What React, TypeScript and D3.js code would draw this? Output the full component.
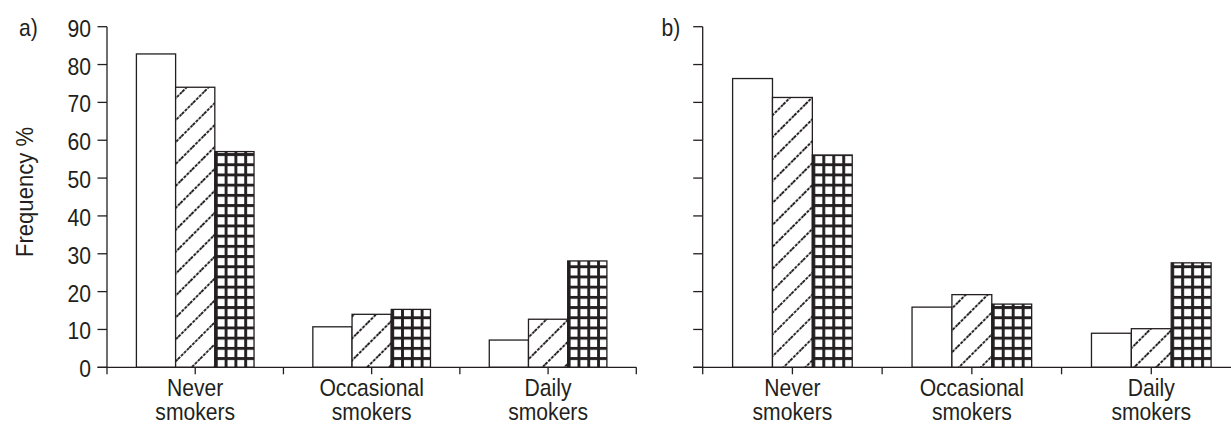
import React from "react";
import * as d3 from "d3";

const categories = ["Never smokers", "Occasional smokers", "Daily smokers"];
const categoryLines = [["Never", "smokers"], ["Occasional", "smokers"], ["Daily", "smokers"]];
const seriesKeys = ["white", "hatched", "grid"];
const panelAValues = [
  [82.8, 74.0, 57.0],
  [10.7, 14.0, 15.3],
  [7.2, 12.7, 28.1],
];
const panelBValues = [
  [76.3, 71.3, 56.1],
  [15.9, 19.2, 16.7],
  [9.0, 10.2, 27.6],
];
const yTicks = [0, 10, 20, 30, 40, 50, 60, 70, 80, 90];

const INK = "#231f20";
const FONT = "'Liberation Sans', Arial, Helvetica, sans-serif";
const FS = 24;
const SX = 0.88;

function T({ x, y, anchor = "middle", children }: any) {
  return (
    <text
      transform={`translate(${x},${y}) scale(${SX},1)`}
      textAnchor={anchor}
      fontFamily={FONT}
      fontSize={FS}
      fill={INK}
    >
      {children}
    </text>
  );
}

function Panel({ id, values, x0, x1, label, showTickLabels }: any) {
  const y = d3.scaleLinear().domain([0, 90]).range([367.3, 26.7]);
  const xb = d3.scaleBand<string>().domain(categories).range([x0, x1]).paddingInner(0).paddingOuter(0);
  const xs = d3
    .scaleBand<string>()
    .domain(seriesKeys)
    .range([0, xb.bandwidth()])
    .paddingInner(0)
    .paddingOuter(0.75);
  const bw = xs.bandwidth();
  const base = y(0);
  const xTickPositions: number[] = [];
  categories.forEach((c) => {
    xTickPositions.push(xb(c)!);
    xTickPositions.push(xb(c)! + xb.bandwidth() / 2);
  });
  xTickPositions.push(x1);

  return (
    <g>
      <defs>
        {values.map((row: number[], ci: number) => {
          const bx = xb(categories[ci])! + xs("grid")!;
          return (
            <pattern
              key={ci}
              id={`${id}-grid-${ci}`}
              patternUnits="userSpaceOnUse"
              x={bx}
              y={base}
              width={bw / 4}
              height={10.2}
            >
              <rect width={bw / 4} height={10.2} fill="#fff" />
              <rect x={0} y={0} width={2.9} height={10.2} fill={INK} />
              <rect x={0} y={0} width={bw / 4} height={2.9} fill={INK} />
            </pattern>
          );
        })}
      </defs>
      {values.map((row: number[], ci: number) =>
        row.map((v: number, si: number) => {
          const key = seriesKeys[si];
          const bx = xb(categories[ci])! + xs(key)!;
          const fill =
            key === "white" ? "#fff" : key === "hatched" ? "url(#hatch)" : `url(#${id}-grid-${ci})`;
          return (
            <rect
              key={`${ci}-${si}`}
              x={bx}
              y={y(v)}
              width={bw}
              height={base - y(v)}
              fill={fill}
              stroke={INK}
              strokeWidth={1.3}
            />
          );
        })
      )}
      <line x1={x0} x2={x0} y1={y(90)} y2={base} stroke={INK} strokeWidth={1.3} />
      {yTicks.map((t) => (
        <g key={t}>
          <line x1={x0 - 9.5} x2={x0} y1={y(t)} y2={y(t)} stroke={INK} strokeWidth={1.3} />
          {showTickLabels && (
            <T x={x0 - 16} y={y(t) + 10} anchor="end">
              {t}
            </T>
          )}
        </g>
      ))}
      <line x1={x0 - 9.5} x2={x1} y1={base} y2={base} stroke={INK} strokeWidth={1.3} />
      {xTickPositions.map((p, i) => (
        <line key={i} x1={p} x2={p} y1={base} y2={base + 7} stroke={INK} strokeWidth={1.3} />
      ))}
      {categories.map((c, ci) => (
        <g key={c}>
          <T x={xb(c)! + xb.bandwidth() / 2} y={395.5}>
            {categoryLines[ci][0]}
          </T>
          <T x={xb(c)! + xb.bandwidth() / 2} y={419.5}>
            {categoryLines[ci][1]}
          </T>
        </g>
      ))}
      <T x={label.x} y={35.5} anchor="start">
        {label.text}
      </T>
    </g>
  );
}

export default function App() {
  return (
    <svg
      width={1231}
      height={425}
      style={{ position: "absolute", left: 0, top: 0, background: "#fff" }}
    >
      <defs>
        <pattern
          id="hatch"
          patternUnits="userSpaceOnUse"
          width={16}
          height={15.5}
          patternTransform="rotate(-45)"
        >
          <rect width={16} height={15.5} fill="#fff" />
          <line x1={0} x2={16} y1={7.75} y2={7.75} stroke={INK} strokeWidth={1.8} strokeDasharray="3 1.2" />
        </pattern>
      </defs>
      <rect width={1231} height={425} fill="#fff" />
      <Panel id="a" values={panelAValues} x0={107} x1={636.3} label={{ x: 19, text: "a)" }} showTickLabels />
      <Panel id="b" values={panelBValues} x0={702.7} x1={1241} label={{ x: 661.5, text: "b)" }} showTickLabels={false} />
      <text
        transform="translate(33,192) rotate(-90) scale(0.92,1)"
        textAnchor="middle"
        fontFamily={FONT}
        fontSize={FS}
        fill={INK}
      >
        Frequency %
      </text>
    </svg>
  );
}
